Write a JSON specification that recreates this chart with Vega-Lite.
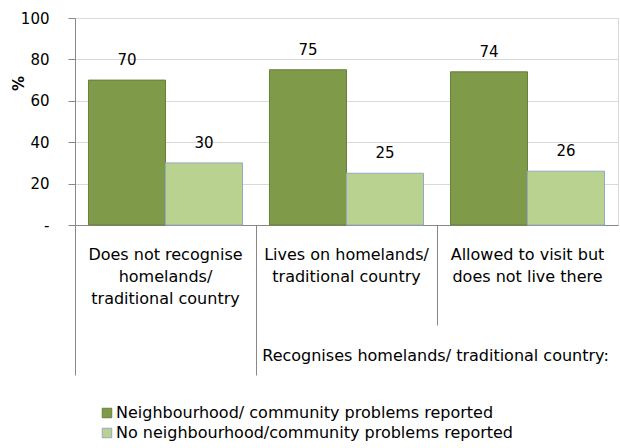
{
  "$schema": "https://vega.github.io/schema/vega-lite/v6.json",
  "width": 543,
  "height": 207,
  "autosize": {"type": "none"},
  "padding": {"left": 75, "top": 18, "right": 2, "bottom": 223},
  "config": {"font": "DejaVu Sans", "view": {"stroke": "#d9d9d9"}},
  "data": {"values": [
    {"group": "Does not recognise|homelands/|traditional  country", "series": "Neighbourhood/ community problems reported", "value": 70},
    {"group": "Does not recognise|homelands/|traditional  country", "series": "No neighbourhood/community  problems reported", "value": 30},
    {"group": "Lives on homelands/|traditional  country", "series": "Neighbourhood/ community problems reported", "value": 75},
    {"group": "Lives on homelands/|traditional  country", "series": "No neighbourhood/community  problems reported", "value": 25},
    {"group": "Allowed to visit  but|does not live there", "series": "Neighbourhood/ community problems reported", "value": 74},
    {"group": "Allowed to visit  but|does not live there", "series": "No neighbourhood/community  problems reported", "value": 26}
  ]},
  "encoding": {
    "x": {
      "field": "group", "type": "nominal", "sort": null,
      "scale": {"paddingInner": 0, "paddingOuter": 0},
      "title": "Recognises homelands/ traditional country:",
      "axis": {
        "orient": "bottom",
        "labelAngle": 0,
        "labelExpr": "split(datum.label, '|')",
        "labelLineHeight": 22,
        "labelFontSize": 16,
        "labelColor": "#000000",
        "labelBaseline": "top",
        "labelAlign": "center",
        "bandPosition": 0,
        "labelOffset": 0,
        "tickSize": {"condition": {"test": "indexof(datum.value, 'Allowed') == 0", "value": 100}, "value": 150},
        "labelPadding": {"condition": {"test": "indexof(datum.value, 'Allowed') == 0", "value": -79}, "value": -129},
        "tickColor": "#888888",
        "domainColor": "#888888",
        "labelLimit": 0,
        "titleFontSize": 16,
        "titleFontWeight": "normal",
        "titleColor": "#000000",
        "titleX": 360,
        "titleY": 130,
        "titleBaseline": "middle",
        "titleAlign": "center"
      }
    },
    "xOffset": {"field": "series", "sort": null, "scale": {"paddingInner": 0, "paddingOuter": 0.175}},
    "y": {
      "field": "value", "type": "quantitative",
      "scale": {"domain": [0, 100]},
      "title": "%",
      "axis": {
        "values": [0, 20, 40, 60, 80, 100],
        "labelExpr": "datum.value == 0 ? '-\u00a0\u00a0' : datum.label",
        "labelFontSize": 15,
        "labelColor": "#000000",
        "labelPadding": 19,
        "labelAlign": "right",
        "tickSize": 7,
        "tickColor": "#888888",
        "domainColor": "#888888",
        "gridColor": "#d9d9d9",
        "titleAngle": -90,
        "titleFontSize": 15,
        "titleFontWeight": "bold",
        "titleColor": "#000000",
        "titleX": -57,
        "titleY": 65,
        "titleAlign": "center",
        "titleBaseline": "middle"
      }
    }
  },
  "layer": [
    {
      "mark": {"type": "bar", "strokeWidth": 1},
      "encoding": {
        "color": {
          "field": "series", "type": "nominal", "sort": null,
          "scale": {"range": ["#7f9a48", "#b9d28f"]},
          "legend": {
            "orient": "none",
            "legendX": 24,
            "legendY": 387,
            "title": null,
            "symbolType": "square",
            "symbolSize": 90,
            "symbolStrokeWidth": 1,
            "labelFontSize": 16,
            "labelColor": "#000000",
            "labelOffset": 1,
            "rowPadding": 4,
            "labelLimit": 0
          }
        },
        "stroke": {
          "field": "series", "type": "nominal", "sort": null,
          "scale": {"range": ["#66803a", "#93a8c4"]},
          "legend": null
        }
      }
    },
    {
      "mark": {"type": "text", "baseline": "middle", "dy": -20, "fontSize": 15, "color": "#000000"},
      "encoding": {"text": {"field": "value", "type": "quantitative"}}
    }
  ]
}
